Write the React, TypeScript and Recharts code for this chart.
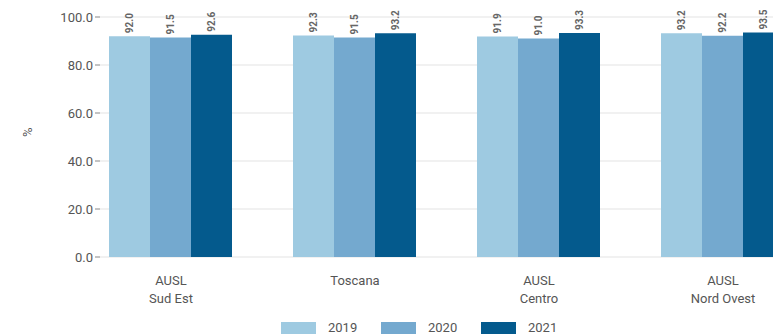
import { BarChart, Bar, XAxis, YAxis, CartesianGrid, LabelList } from 'recharts';

const categories = ['AUSL\nSud Est', 'Toscana', 'AUSL\nCentro', 'AUSL\nNord Ovest'];
const values2019 = [92.0, 92.3, 91.9, 93.2];
const values2020 = [91.5, 91.5, 91.0, 92.2];
const values2021 = [92.6, 93.2, 93.3, 93.5];
const yTicks = [0, 20, 40, 60, 80, 100];

const series = [
    { key: 'y2019', name: '2019', color: '#9ecae1' },
    { key: 'y2020', name: '2020', color: '#74a9cf' },
    { key: 'y2021', name: '2021', color: '#045a8d' },
];

const data = categories.map((name, i) => ({
    name,
    y2019: values2019[i],
    y2020: values2020[i],
    y2021: values2021[i],
}));

const font = 'Roboto, "DejaVu Sans", sans-serif';

function CategoryTick({ x, y, payload }: any) {
    const lines = String(payload.value).split('\n');
    return (
        <text x={x} y={y + 20} textAnchor="middle" fill="#555" fontSize={13} fontFamily={font}>
            {lines.map((l, i) => (
                <tspan key={i} x={x} dy={i === 0 ? 0 : 18}>{l}</tspan>
            ))}
        </text>
    );
}

function ValueLabel({ x, y, width, value }: any) {
    const cx = x + width / 2;
    const ty = y - 3;
    return (
        <text
            x={cx}
            y={ty}
            transform={`rotate(-90 ${cx} ${ty})`}
            textAnchor="start"
            dominantBaseline="central"
            fill="#666"
            fontSize={10}
            fontWeight="bold"
            fontFamily={font}
        >
            {Number(value).toFixed(1)}
        </text>
    );
}

export default function App() {
    return (
        <div style={{ position: 'absolute', left: 0, top: 0, width: 773, height: 334, overflow: 'hidden', background: '#fff' }}>
            <BarChart
                width={830}
                height={334}
                data={data}
                margin={{ top: 17, right: 15, left: 0, bottom: 0 }}
                barCategoryGap={30}
                barGap={0}
            >
                <CartesianGrid vertical={false} stroke="#e3e3e3" />
                <XAxis
                    dataKey="name"
                    height={77}
                    padding={{ left: -21, right: 0 }}
                    axisLine={false}
                    tickLine={false}
                    tick={<CategoryTick />}
                    interval={0}
                />
                <YAxis
                    width={100}
                    domain={[0, 100]}
                    ticks={yTicks}
                    tickFormatter={(v: number) => v.toFixed(1)}
                    axisLine={false}
                    tickLine={{ stroke: '#888' }}
                    tickSize={5}
                    tickMargin={2}
                    tick={{ fill: '#555', fontSize: 13, fontFamily: font }}
                    label={{ value: '%', angle: -90, position: 'insideLeft', offset: 27, fill: '#555', fontSize: 13, fontFamily: font }}
                />
                {series.map((s) => (
                    <Bar key={s.key} dataKey={s.key} name={s.name} fill={s.color} isAnimationActive={false}>
                        <LabelList dataKey={s.key} content={<ValueLabel />} />
                    </Bar>
                ))}
            </BarChart>
            <div style={{ position: 'absolute', left: 281, top: 320, display: 'flex', fontFamily: font, fontSize: 13, color: '#555' }}>
                {series.map((s) => (
                    <div key={s.key} style={{ display: 'flex', alignItems: 'center', width: 100 }}>
                        <span style={{ display: 'inline-block', width: 35, height: 12, background: s.color, marginRight: 12 }} />
                        <span>{s.name}</span>
                    </div>
                ))}
            </div>
        </div>
    );
}
